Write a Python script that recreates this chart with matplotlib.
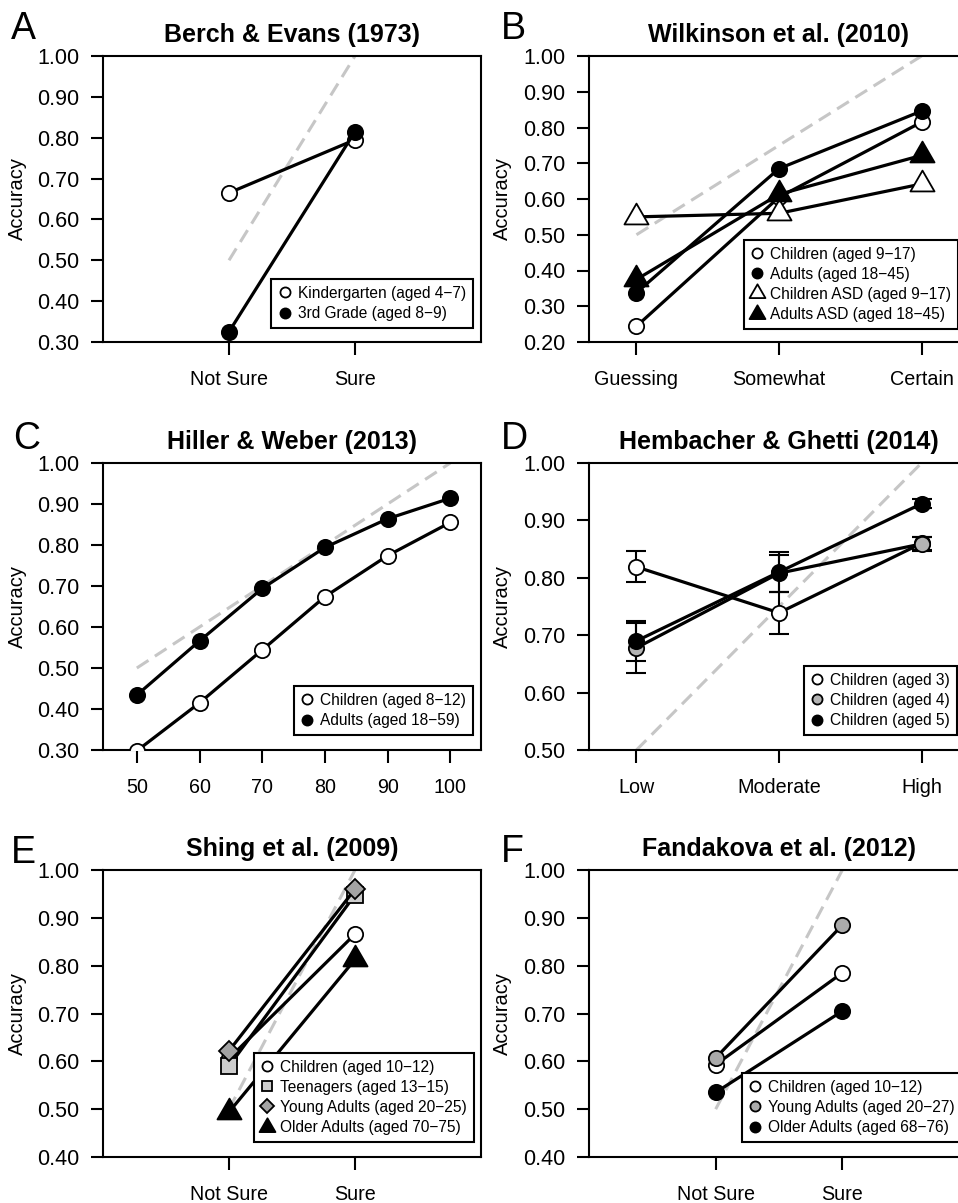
import numpy as np
import matplotlib
matplotlib.use("Agg")
import matplotlib.pyplot as plt
from matplotlib.path import Path
from matplotlib.lines import Line2D

# ---------------- data ----------------
A_title = "Berch & Evans (1973)"
A_cats = ["Not Sure", "Sure"]
A_kinder = [0.665, 0.795]
A_third = [0.325, 0.815]
A_labels = ["Kindergarten (aged 4\u22127)", "3rd Grade (aged 8\u22129)"]
A_yticks = [0.30, 0.40, 0.50, 0.60, 0.70, 0.80, 0.90, 1.00]

B_title = "Wilkinson et al. (2010)"
B_cats = ["Guessing", "Somewhat", "Certain"]
B_children = [0.244, 0.605, 0.815]
B_adults = [0.338, 0.685, 0.846]
B_children_asd = [0.550, 0.560, 0.642]
B_adults_asd = [0.375, 0.613, 0.722]
B_labels = ["Children (aged 9\u221217)", "Adults (aged 18\u221245)",
            "Children ASD (aged 9\u221217)", "Adults ASD (aged 18\u221245)"]
B_yticks = [0.20, 0.30, 0.40, 0.50, 0.60, 0.70, 0.80, 0.90, 1.00]

C_title = "Hiller & Weber (2013)"
C_conf = [50, 60, 70, 80, 90, 100]
C_children = [0.298, 0.415, 0.544, 0.674, 0.774, 0.855]
C_adults = [0.434, 0.566, 0.694, 0.794, 0.864, 0.914]
C_labels = ["Children (aged 8\u221212)", "Adults (aged 18\u221259)"]
C_yticks = [0.30, 0.40, 0.50, 0.60, 0.70, 0.80, 0.90, 1.00]

D_title = "Hembacher & Ghetti (2014)"
D_cats = ["Low", "Moderate", "High"]
D_aged3 = [0.819, 0.739, 0.860]
D_aged3_err = [0.027, 0.037, 0.011]
D_aged4 = [0.678, 0.808, 0.859]
D_aged4_err = [0.044, 0.032, 0.012]
D_aged5 = [0.690, 0.810, 0.929]
D_aged5_err = [0.035, 0.035, 0.008]
D_labels = ["Children (aged 3)", "Children (aged 4)", "Children (aged 5)"]
D_yticks = [0.50, 0.60, 0.70, 0.80, 0.90, 1.00]

E_title = "Shing et al. (2009)"
E_cats = ["Not Sure", "Sure"]
E_children = [0.606, 0.866]
E_teens = [0.590, 0.948]
E_young = [0.622, 0.960]
E_older = [0.494, 0.813]
E_labels = ["Children (aged 10\u221212)", "Teenagers (aged 13\u221215)",
            "Young Adults (aged 20\u221225)", "Older Adults (aged 70\u221275)"]
E_yticks = [0.40, 0.50, 0.60, 0.70, 0.80, 0.90, 1.00]

F_title = "Fandakova et al. (2012)"
F_cats = ["Not Sure", "Sure"]
F_children = [0.593, 0.785]
F_young = [0.607, 0.885]
F_older = [0.535, 0.705]
F_labels = ["Children (aged 10\u221212)", "Young Adults (aged 20\u221227)",
            "Older Adults (aged 68\u221276)"]
F_yticks = [0.40, 0.50, 0.60, 0.70, 0.80, 0.90, 1.00]

# perfect-calibration reference lines
ideal_two_x, ideal_two_y = [1, 2], [0.5, 1.0]
ideal_three_x, ideal_three_y = [1, 3], [0.5, 1.0]
ideal_c_x, ideal_c_y = [50, 100], [0.5, 1.0]

# ---------------- style ----------------
plt.rcParams['font.family'] = ['Liberation Sans', 'DejaVu Sans']
plt.rcParams['lines.scale_dashes'] = False

W, H = 958, 1203
fig = plt.figure(figsize=(W / 100, H / 100), dpi=100)

TRI = Path([(-1, -0.577), (1, -0.577), (0, 1.155), (-1, -0.577)],
           [Path.MOVETO, Path.LINETO, Path.LINETO, Path.CLOSEPOLY])
WHITE, BLACK = 'white', 'black'
GRAY_D = '#b4b4b4'
GRAY_SQ = '#cdcdcd'
GRAY_DIA = '#a3a3a3'
GRAY_F = '#aaaaaa'
DASH = '#c6c6c6'

STY = {
    'o': dict(marker='o', ms=11),
    '^': dict(marker=TRI, ms=20),
    's': dict(marker='s', ms=11.5),
    'D': dict(marker='D', ms=10.5),
}


def ax_at(x0, y0, x1, y1):
    return fig.add_axes([x0 / W, 1 - y1 / H, (x1 - x0) / W, (y1 - y0) / H])


def setup(ax, xlim, xticks, xticklabels, ylim, yticks, title, letter, lx, ly, label_off):
    ax.set_xlim(xlim)
    ax.set_ylim(ylim)
    ax.set_xticks(xticks)
    ax.set_xticklabels(xticklabels)
    ax.set_yticks(yticks)
    ax.set_yticklabels([f"{v:.2f}" for v in yticks])
    for s in ax.spines.values():
        s.set_linewidth(1.5)
    ax.tick_params(axis='both', direction='out', width=1.5, colors='black')
    ax.tick_params(axis='x', length=9, pad=11, labelsize=14.2)
    ax.tick_params(axis='y', length=8.3, pad=8.6, labelsize=15.5)
    ax.set_ylabel("Accuracy", fontsize=14.5)
    ax.yaxis.set_label_coords(label_off, 0.5)
    ax.set_title(title, fontsize=18, fontweight='bold', pad=10)
    fig.text(lx / W, 1 - ly / H, letter, fontsize=27, ha='left', va='baseline')


def ideal(ax, x, y):
    ax.plot(x, y, color=DASH, lw=2.2, dashes=(10, 5.5), zorder=2, solid_capstyle='butt')


def series(ax, x, y, key, face, yerr=None):
    if yerr is not None:
        ax.errorbar(x, y, yerr=yerr, fmt='none', ecolor='black', elinewidth=1.5,
                    capsize=7, capthick=1.5, zorder=3)
    st = STY[key]
    ax.plot(x, y, color='black', lw=2.3, marker=st['marker'], ms=st['ms'],
            mfc=face, mec='black', mew=1.3, zorder=4)


def legend(ax, specs, labels, ax_r, ax_b):
    handles = [Line2D([], [], ls='none', marker=STY[k]['marker'], ms=STY[k]['ms'],
                      mfc=f, mec='black', mew=1.3) for k, f in specs]
    leg = ax.legend(handles, labels, loc='lower right', bbox_to_anchor=(ax_r, ax_b),
                    borderaxespad=0, fontsize=11.2, frameon=True, fancybox=False,
                    edgecolor='black', framealpha=1, handlelength=0.8,
                    handletextpad=0.45, borderpad=0.45, labelspacing=0.33,
                    markerscale=0.66)
    leg.get_frame().set_linewidth(1.5)
    leg.set_zorder(10)


# ---------------- panel A ----------------
ax = ax_at(103, 56, 481, 342)
setup(ax, (0, 3), [1, 2], A_cats, (0.30, 1.00), A_yticks, A_title, 'A', 11, 39, -76 / 378)
ideal(ax, ideal_two_x, ideal_two_y)
x = [1, 2]
series(ax, x, A_kinder, 'o', WHITE)
series(ax, x, A_third, 'o', BLACK)
legend(ax, [('o', WHITE), ('o', BLACK)], A_labels, 1 - 8 / 378, 14 / 287)

# ---------------- panel B ----------------
ax = ax_at(589, 56, 969, 342)
setup(ax, (0.667, 3.333), [1, 2, 3], B_cats, (0.20, 1.00), B_yticks, B_title, 'B', 501, 39, -77 / 380)
ideal(ax, ideal_three_x, ideal_three_y)
x = [1, 2, 3]
series(ax, x, B_children, 'o', WHITE)
series(ax, x, B_adults, 'o', BLACK)
series(ax, x, B_children_asd, '^', WHITE)
series(ax, x, B_adults_asd, '^', BLACK)
legend(ax, [('o', WHITE), ('o', BLACK), ('^', WHITE), ('^', BLACK)], B_labels,
       1 - 11 / 380, 13 / 287)

# ---------------- panel C ----------------
ax = ax_at(103, 463, 481, 750)
setup(ax, (44.6, 104.9), C_conf, [str(v) for v in C_conf], (0.30, 1.00), C_yticks,
      C_title, 'C', 13, 449, -76 / 378)
ideal(ax, ideal_c_x, ideal_c_y)
series(ax, C_conf, C_children, 'o', WHITE)
series(ax, C_conf, C_adults, 'o', BLACK)
legend(ax, [('o', WHITE), ('o', BLACK)], C_labels, 1 - 8 / 378, 15 / 287)

# ---------------- panel D ----------------
ax = ax_at(589, 463, 969, 750)
setup(ax, (0.667, 3.333), [1, 2, 3], D_cats, (0.50, 1.00), D_yticks, D_title, 'D', 501, 449, -77 / 380)
ideal(ax, ideal_three_x, ideal_three_y)
x = [1, 2, 3]
series(ax, x, D_aged3, 'o', WHITE, D_aged3_err)
series(ax, x, D_aged4, 'o', GRAY_D, D_aged4_err)
series(ax, x, D_aged5, 'o', BLACK, D_aged5_err)
legend(ax, [('o', WHITE), ('o', GRAY_D), ('o', BLACK)], D_labels, 1 - 12 / 380, 15 / 287)

# ---------------- panel E ----------------
ax = ax_at(103, 870, 481, 1157)
setup(ax, (0, 3), [1, 2], E_cats, (0.40, 1.00), E_yticks, E_title, 'E', 11, 863, -76 / 378)
ideal(ax, ideal_two_x, ideal_two_y)
x = [1, 2]
series(ax, x, E_children, 'o', WHITE)
series(ax, x, E_teens, 's', GRAY_SQ)
series(ax, x, E_young, 'D', GRAY_DIA)
series(ax, x, E_older, '^', BLACK)
legend(ax, [('o', WHITE), ('s', GRAY_SQ), ('D', GRAY_DIA), ('^', BLACK)], E_labels,
       1 - 7 / 378, 15 / 287)

# ---------------- panel F ----------------
ax = ax_at(589, 870, 969, 1157)
setup(ax, (0, 3), [1, 2], F_cats, (0.40, 1.00), F_yticks, F_title, 'F', 501, 862, -77 / 380)
ideal(ax, ideal_two_x, ideal_two_y)
x = [1, 2]
series(ax, x, F_children, 'o', WHITE)
series(ax, x, F_young, 'o', GRAY_F)
series(ax, x, F_older, 'o', BLACK)
legend(ax, [('o', WHITE), ('o', GRAY_F), ('o', BLACK)], F_labels, 1 - 7 / 380, 15 / 287)

fig.savefig("out.png", dpi=100)
